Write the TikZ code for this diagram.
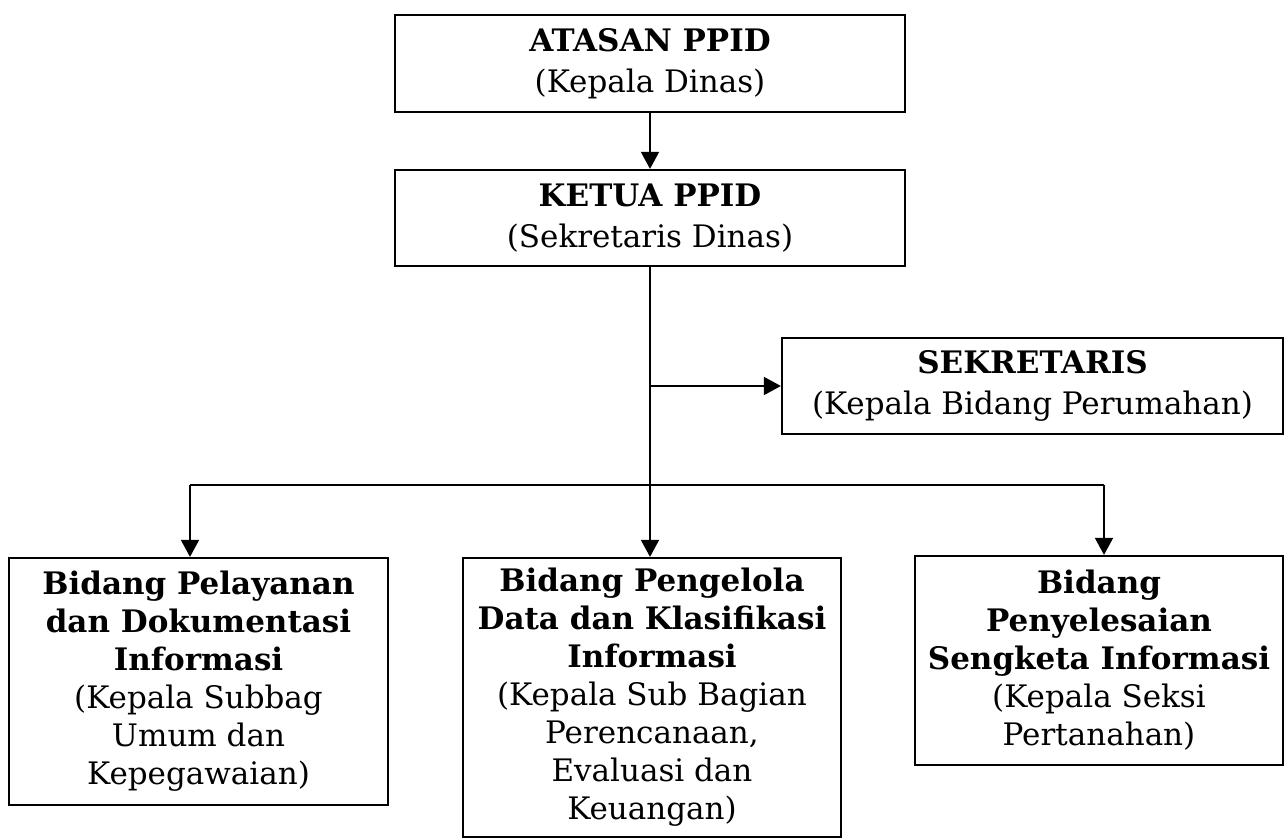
\documentclass[tikz,border=0pt]{standalone}
\usepackage{fontspec}
\setmainfont{DejaVu Serif}
\usetikzlibrary{arrows.meta}

\begin{document}
\begin{tikzpicture}[x=0.5pt, y=-0.5pt,
  kotak/.style = {draw, line width=1.1pt, rectangle, align=center, inner sep=0pt, font=\fontsize{15.5}{19}\selectfont},
  atas/.style = {kotak, font=\fontsize{15.5}{20.5}\selectfont},
  panah/.style = {line width=0.8pt, -{Triangle[length=8.5pt,width=9pt]}},
  garis/.style = {line width=0.8pt}]
\useasboundingbox (0,0) rectangle (1286,839);
\node[atas, minimum width=255pt, minimum height=48.5pt] (atasan) at (650,63.5) {\textbf{ATASAN PPID}\\(Kepala Dinas)};
\node[atas, minimum width=255pt, minimum height=48pt] (ketua) at (650,218) {\textbf{KETUA PPID}\\(Sekretaris Dinas)};
\node[atas, minimum width=250.5pt, minimum height=48pt] (sekretaris) at (1032.5,386) {\textbf{SEKRETARIS}\\(Kepala Bidang Perumahan)};
\node[kotak, minimum width=189.5pt, minimum height=123.5pt] (kiri) at (198.5,681.5) {\textbf{Bidang Pelayanan}\\\textbf{dan Dokumentasi}\\\textbf{Informasi}\\(Kepala Subbag\\Umum dan\\Kepegawaian)};
\node[kotak, minimum width=189pt, minimum height=139.5pt] (tengah) at (652,697.5) {\textbf{Bidang Pengelola}\\\textbf{Data dan Klasifikasi}\\\textbf{Informasi}\\(Kepala Sub Bagian\\Perencanaan,\\Evaluasi dan\\Keuangan)};
\node[kotak, minimum width=184pt, minimum height=104.5pt] (kanan) at (1099,660.5) {\textbf{Bidang}\\\textbf{Penyelesaian}\\\textbf{Sengketa Informasi}\\(Kepala Seksi\\Pertanahan)};
\coordinate (busKiri) at (190,485);
\coordinate (busKanan) at (1104,485);
\draw[panah] (atasan) -- (ketua);
\draw[panah] (ketua.south) -- (ketua.south |- tengah.north);
\draw[panah] (ketua.south |- sekretaris.west) -- (sekretaris.west);
\draw[garis] (busKiri) -- (busKanan);
\draw[panah] (busKiri) -- (busKiri |- kiri.north);
\draw[panah] (busKanan) -- (busKanan |- kanan.north);
\end{tikzpicture}
\end{document}
